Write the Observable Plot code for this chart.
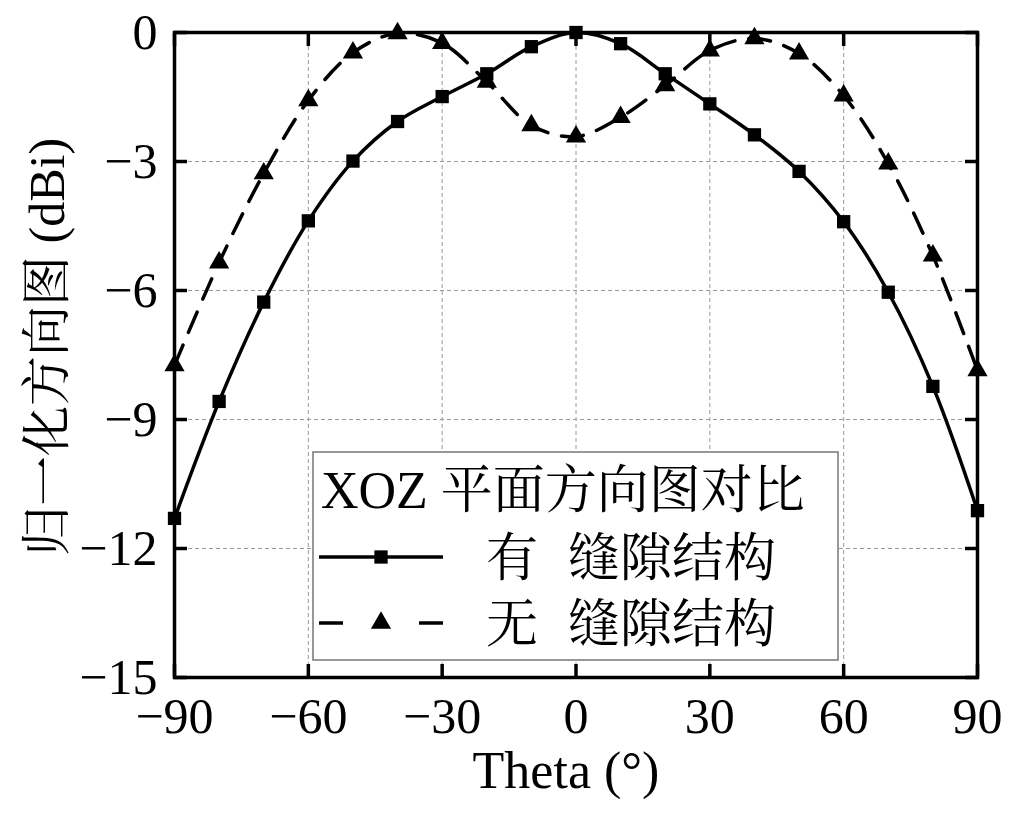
<!DOCTYPE html>
<html>
<head>
<meta charset="utf-8">
<script src="https://cdn.jsdelivr.net/npm/d3@7"></script>
<script src="https://cdn.jsdelivr.net/npm/@observablehq/plot@0.6"></script>
<style>
  html, body { margin: 0; padding: 0; background: #fff; }
  #chart { width: 1016px; height: 814px; }
</style>
</head>
<body>
<div id="chart"></div>
<script>
// ---- data ----
const theta = [-90, -80, -70, -60, -50, -40, -30, -20, -10, 0, 10, 20, 30, 40, 50, 60, 70, 80, 90];
const withSlot = [-11.3, -8.58, -6.27, -4.38, -2.99, -2.07, -1.49, -0.96, -0.33, 0, -0.26, -0.96, -1.66, -2.38, -3.23, -4.40, -6.04, -8.23, -11.12];
const withoutSlot = [-7.74, -5.35, -3.28, -1.58, -0.47, -0.02, -0.25, -1.15, -2.16, -2.42, -1.97, -1.23, -0.42, -0.14, -0.49, -1.47, -3.05, -5.19, -7.86];
const xTicks = [-90, -60, -30, 0, 30, 60, 90];
const yTicks = [0, -3, -6, -9, -12, -15];
const xGrid = [-60, -30, 0, 30, 60];
const yGrid = [-3, -6, -9, -12];
const xLabel = "Theta (°)";
const yLabel = "归一化方向图 (dBi)";
const legendTitle = "XOZ 平面方向图对比";
const seriesNames = ["有", "无"];
const seriesSuffix = "缝隙结构";

const s1 = theta.map((t, i) => ({t, v: withSlot[i]}));
const s2 = theta.map((t, i) => ({t, v: withoutSlot[i]}));
const fmt = d => (d < 0 ? "\u2212" + Math.abs(d) : String(d));
const FONT = "'Liberation Serif', 'Times New Roman', 'Noto Serif CJK SC', 'Noto Sans CJK SC', serif";

const W = 1016, H = 814, ML = 174, MR = 39, MT = 32, MB = 137;

const plot = Plot.plot({
  width: W, height: H,
  marginLeft: ML, marginRight: MR, marginTop: MT, marginBottom: MB,
  x: {domain: [-90, 90], label: null},
  y: {domain: [-15, 0], label: null},
  style: {fontFamily: FONT, fontSize: "50px", color: "#000", background: "#fff", overflow: "visible"},
  marks: [
    Plot.gridX(xGrid, {stroke: "#9a9a9a", strokeOpacity: 1, strokeWidth: 1, strokeDasharray: "4,3"}),
    Plot.gridY(yGrid, {stroke: "#9a9a9a", strokeOpacity: 1, strokeWidth: 1, strokeDasharray: "4,3"}),
    Plot.line(s1, {x: "t", y: "v", stroke: "#000", strokeWidth: 3.5, curve: "catmull-rom"}),
    Plot.line(s2, {x: "t", y: "v", stroke: "#000", strokeWidth: 3.5, strokeDasharray: "22,14", curve: "catmull-rom"}),
    Plot.dot(s1, {x: "t", y: "v", symbol: "square", r: 7.5, fill: "#000", stroke: "none"}),
    Plot.dot(s2, {x: "t", y: "v", symbol: "triangle", r: 7.5, fill: "#000", stroke: "none"}),
    Plot.axisX(xTicks, {anchor: "bottom", tickSize: -13, strokeWidth: 3.5, tickFormat: () => "", label: null}),
    Plot.axisX(xTicks, {anchor: "top", tickSize: -13, strokeWidth: 3.5, tickFormat: () => "", label: null}),
    Plot.axisY(yTicks, {anchor: "left", tickSize: -13, strokeWidth: 3.5, tickFormat: () => "", label: null}),
    Plot.axisY(yTicks, {anchor: "right", tickSize: -13, strokeWidth: 3.5, tickFormat: () => "", label: null}),
    Plot.axisX(xTicks, {anchor: "bottom", tickSize: 0, tickPadding: 20, tickFormat: fmt, label: null, fontSize: 50, fill: "#000"}),
    Plot.axisY(yTicks, {anchor: "left", tickSize: 0, tickPadding: 17, tickFormat: fmt, label: null, fontSize: 50, fill: "#000"}),
    Plot.frame({stroke: "#000", strokeWidth: 3.5})
  ]
});

document.getElementById("chart").appendChild(plot);

// ---- annotations: axis titles and legend ----
const svg = d3.select(plot);

svg.append("text")
  .attr("x", 566).attr("y", 788)
  .attr("text-anchor", "middle")
  .attr("font-family", FONT).attr("font-size", 52)
  .attr("fill", "#000")
  .text(xLabel);

svg.append("text")
  .attr("transform", "translate(64,347) rotate(-90)")
  .attr("text-anchor", "middle")
  .attr("font-family", FONT).attr("font-size", 50)
  .attr("fill", "#000")
  .text(yLabel);

const lg = svg.append("g").attr("text-anchor", "start");
lg.append("rect")
  .attr("x", 313).attr("y", 452).attr("width", 525).attr("height", 208)
  .attr("fill", "#fff").attr("stroke", "#777").attr("stroke-width", 1.5);
lg.append("text")
  .attr("x", 321).attr("y", 508)
  .attr("text-anchor", "start")
  .attr("font-family", FONT).attr("font-size", 52).attr("fill", "#000")
  .text(legendTitle);

// row 1: solid with square
lg.append("line").attr("x1", 319).attr("x2", 443).attr("y1", 557).attr("y2", 557)
  .attr("stroke", "#000").attr("stroke-width", 3.5);
lg.append("path").attr("transform", "translate(381,557)")
  .attr("d", d3.symbol(d3.symbolSquare, Math.PI * 7.5 * 7.5)()).attr("fill", "#000");
// row 2: dashed with triangle
lg.append("line").attr("x1", 319).attr("x2", 343).attr("y1", 623).attr("y2", 623)
  .attr("stroke", "#000").attr("stroke-width", 3.5);
lg.append("line").attr("x1", 419).attr("x2", 443).attr("y1", 623).attr("y2", 623)
  .attr("stroke", "#000").attr("stroke-width", 3.5);
lg.append("path").attr("transform", "translate(381,623)")
  .attr("d", d3.symbol(d3.symbolTriangle, Math.PI * 7.5 * 7.5)()).attr("fill", "#000");

[557, 623].forEach((y, i) => {
  lg.append("text").attr("x", 486).attr("y", y + 19)
    .attr("text-anchor", "start")
    .attr("font-family", FONT).attr("font-size", 52).attr("fill", "#000")
    .text(seriesNames[i]);
  lg.append("text").attr("x", 568).attr("y", y + 19)
    .attr("text-anchor", "start")
    .attr("font-family", FONT).attr("font-size", 52).attr("fill", "#000")
    .text(seriesSuffix);
});
</script>
</body>
</html>
